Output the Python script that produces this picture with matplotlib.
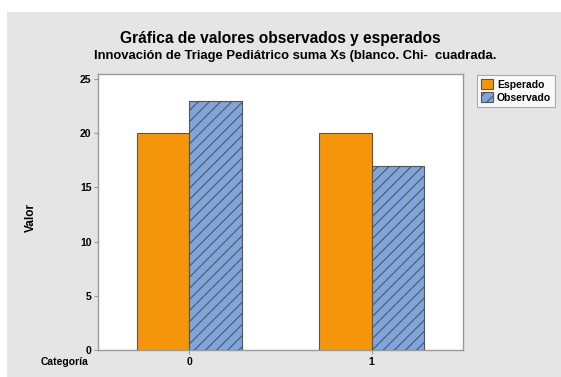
import matplotlib
matplotlib.use("Agg")
import matplotlib.pyplot as plt
from matplotlib.patches import Rectangle, Patch
import numpy as np

categories = ["0", "1"]
esperado = [20, 20]
observado = [23, 17]
yticks = [0, 5, 10, 15, 20, 25]

plt.rcParams['font.family'] = ['Liberation Sans', 'DejaVu Sans']
plt.rcParams['hatch.linewidth'] = 0.8
plt.rcParams['hatch.color'] = '#3a4a5a'

W, H = 561, 377
fig = plt.figure(figsize=(W/100, H/100), dpi=100)
fig.patch.set_facecolor('white')
fig.add_artist(Rectangle((7/W, 0), 1, (H-12)/H, transform=fig.transFigure,
                         facecolor='#e5e5e5', edgecolor='none', zorder=-10))

ax = fig.add_axes([98.4/W, 1-350/H, (462.6-98.4)/W, (350-74)/H])
ax.set_facecolor('white')
x = np.arange(len(categories))
bw = 0.286
ax.bar(x - bw/2, esperado, bw, color='#f5960a', edgecolor='#555555', linewidth=0.8,
       label='Esperado', zorder=3)
ax.bar(x + bw/2, observado, bw, color='#7fa5dd', edgecolor='#555555', linewidth=0.8,
       hatch='///', label='Observado', zorder=3)
ax.set_xlim(-0.5, 1.5)
ax.set_ylim(0, 25.45)
ax.set_xticks(x)
ax.set_xticklabels(categories)
ax.set_yticks(yticks)
for s in ax.spines.values():
    s.set_color('#9a9a9a')
    s.set_linewidth(1)
ax.tick_params(axis='both', colors='#9a9a9a', length=3, width=0.8, labelsize=7.5,
               labelcolor='black', pad=2)
for lab in ax.get_xticklabels() + ax.get_yticklabels():
    lab.set_fontweight('bold')

fig.text(280/W, 1-38/H, 'Gráfica de valores observados y esperados',
         ha='center', va='center', fontsize=11.2, fontweight='bold')
fig.text(295/W, 1-56/H,
         'Innovación de Triage Pediátrico suma Xs (blanco. Chi-  cuadrada.',
         ha='center', va='center', fontsize=9.4, fontweight='bold')
fig.text(31/W, 1-218/H, 'Valor', rotation=90, ha='center', va='center',
         fontsize=8.5, fontweight='bold')
fig.text(65/W, 1-362/H, 'Categoría', ha='center', va='center',
         fontsize=7.5, fontweight='bold')

handles = [Patch(facecolor='#f5960a', edgecolor='#555555', linewidth=0.8, label='Esperado'),
           Patch(facecolor='#7fa5dd', edgecolor='#555555', linewidth=0.8, hatch='///',
                 label='Observado')]
leg = fig.legend(handles=handles, loc='upper left', bbox_to_anchor=(477/W, 1-75/H),
                 frameon=True, fancybox=False, fontsize=7.5, handlelength=1.1,
                 handleheight=1.1, handletextpad=0.4, borderpad=0.4, labelspacing=0.25,
                 borderaxespad=0)
leg.get_frame().set_edgecolor('#9a9a9a')
leg.get_frame().set_linewidth(0.8)
for t in leg.get_texts():
    t.set_fontweight('bold')

fig.savefig('out.png', dpi=100)
